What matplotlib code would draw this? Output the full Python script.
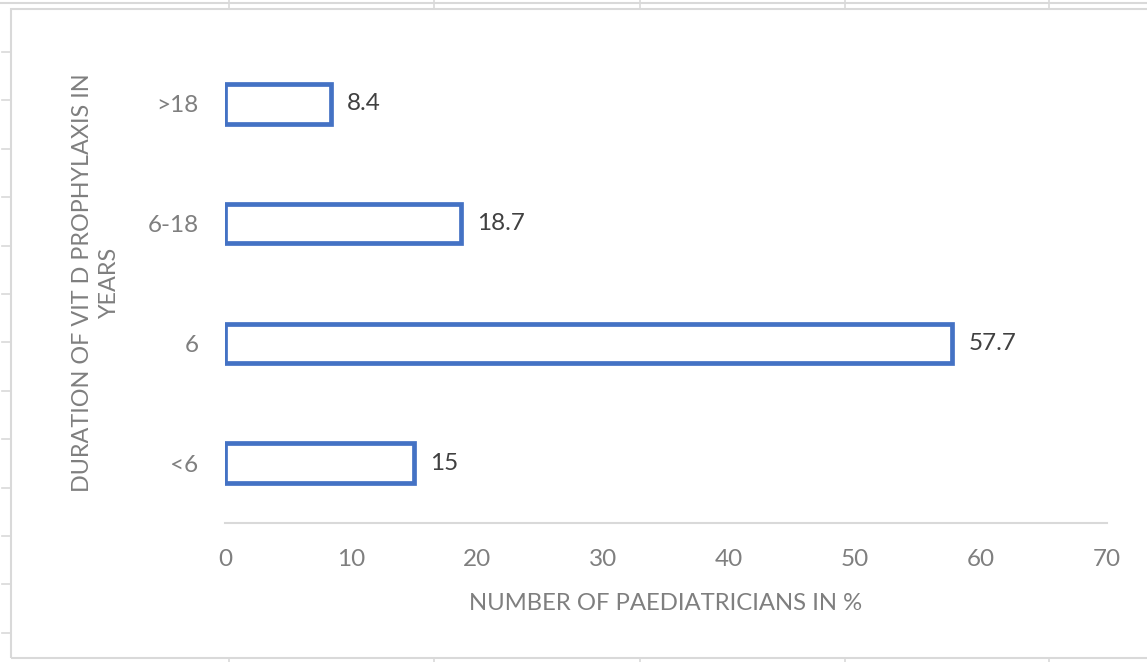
import matplotlib.pyplot as plt
from matplotlib.lines import Line2D
from matplotlib.patches import Rectangle

# data
categories = ['<6', '6', '6-18', '>18']
values = [15, 57.7, 18.7, 8.4]
value_labels = ['15', '57.7', '18.7', '8.4']
x_ticks = [0, 10, 20, 30, 40, 50, 60, 70]

W, H = 1147, 662
plt.rcParams['font.family'] = ['Lato', 'DejaVu Sans']

fig = plt.figure(figsize=(W / 100, H / 100), dpi=100)

def fx(px):
    return px / W

def fy(py):
    return 1 - py / H

grid_col = '#d9d9d9'

# spreadsheet gridlines showing around the chart
fig.add_artist(Line2D([0, 1], [fy(3), fy(3)], color=grid_col, lw=1.5))
for gx in [229, 434, 640, 845, 1049]:
    fig.add_artist(Line2D([fx(gx), fx(gx)], [fy(0), fy(9)], color=grid_col, lw=1.2))
    fig.add_artist(Line2D([fx(gx), fx(gx)], [fy(658), fy(662)], color=grid_col, lw=1.2))
for k in range(13):
    gy = 52 + 48.4 * k
    fig.add_artist(Line2D([fx(2), fx(11)], [fy(gy), fy(gy)], color=grid_col, lw=1.2))

# chart area border
fig.add_artist(Rectangle((fx(11), fy(658)), fx(1160) - fx(11), fy(9) - fy(658),
                         transform=fig.transFigure, fill=False, edgecolor=grid_col, lw=1.5))

ax = fig.add_axes([fx(225), fy(523), fx(1107) - fx(225), fy(44) - fy(523)])

ax.barh(range(len(categories)), values, height=0.33, color='white',
        edgecolor='#4472C4', linewidth=3.4)

for i, v in enumerate(values):
    ax.text(v + 1.3, i, value_labels[i], va='center', ha='left',
            fontsize=17.5, color='#404040')

ax.set_xlim(0, 70)
ax.set_ylim(-0.5, 3.5)
ax.set_xticks(x_ticks)
ax.set_yticks(range(len(categories)))
ax.set_yticklabels(categories)
ax.tick_params(axis='both', length=0, labelsize=17.5, colors='#7f7f7f')
ax.tick_params(axis='x', pad=19)
ax.tick_params(axis='y', pad=19)

for s in ['top', 'right', 'left']:
    ax.spines[s].set_visible(False)
ax.spines['bottom'].set_color(grid_col)
ax.spines['bottom'].set_linewidth(1.5)

fig.text(fx(666), fy(604), 'NUMBER OF PAEDIATRICIANS IN %', ha='center', va='center',
         fontsize=17.2, color='#7f7f7f')
fig.text(fx(96), fy(283), 'DURATION OF VIT D PROPHYLAXIS IN\nYEARS', ha='center',
         va='center', rotation=90, fontsize=16.8, color='#7f7f7f', linespacing=1.4,
         multialignment='center')

fig.savefig('out.png', dpi=100)
